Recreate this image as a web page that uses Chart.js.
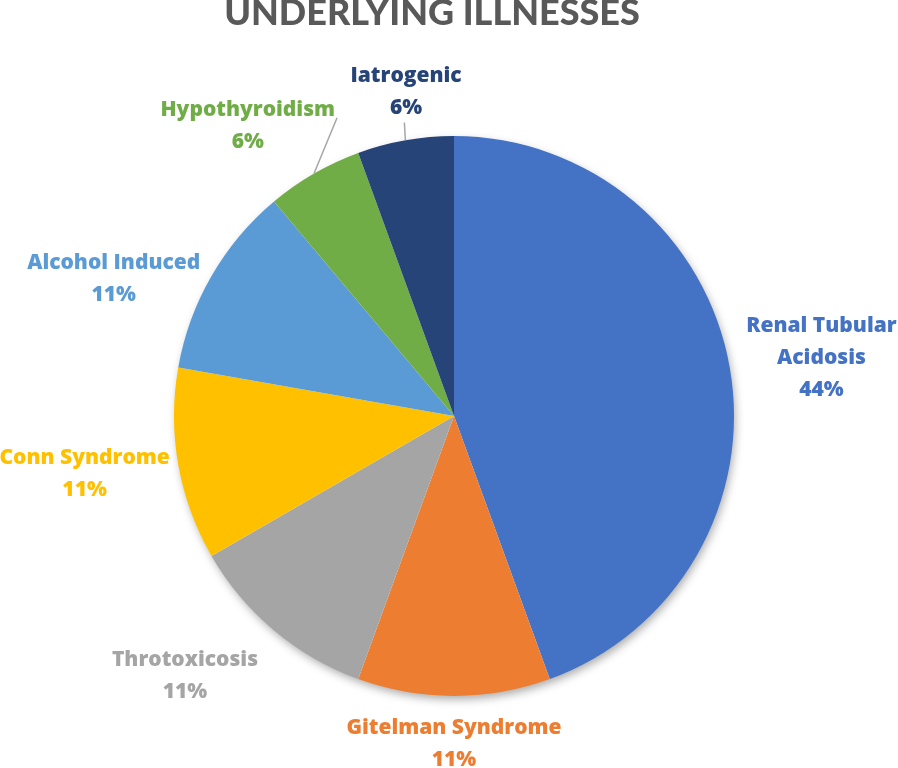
<!DOCTYPE html>
<html>
<head>
<meta charset="utf-8">
<script src="https://cdn.jsdelivr.net/npm/chart.js@4"></script>
<style>
  html, body { margin: 0; padding: 0; background: #fff; }
  #wrap { width: 898px; height: 768px; position: relative; }
</style>
</head>
<body>
<div id="wrap"><canvas id="pie-chart"></canvas></div>
<script>
// data
var categories = ["Renal Tubular Acidosis", "Gitelman Syndrome", "Throtoxicosis", "Conn Syndrome", "Alcohol Induced", "Hypothyroidism", "Iatrogenic"];
var labelLines = [["Renal Tubular", "Acidosis"], ["Gitelman Syndrome"], ["Throtoxicosis"], ["Conn Syndrome"], ["Alcohol Induced"], ["Hypothyroidism"], ["Iatrogenic"]];
var cases = [8, 2, 2, 2, 2, 1, 1];
var colors = ["#4472C4", "#ED7D31", "#A5A5A5", "#FFC000", "#5B9BD5", "#70AD47", "#264478"];

// label placement (distance from centre in px, angle nudge in degrees)
var labelDist = [372, 328, 374, 374, 367, 356, 328];
var labelNudge = [1, 0, 6, 1, -8, -5.4, 1.6];
var leaderLine = [false, false, false, false, false, true, true];

var total = cases.reduce(function (a, b) { return a + b; }, 0);
var TITLE_FONT = "Lato, 'Open Sans', sans-serif";
var LABEL_FONT = "'Open Sans', Lato, sans-serif";

var shadowPlugin = {
  id: 'pieShadow',
  beforeDatasetsDraw: function (chart) {
    var arc = chart.getDatasetMeta(0).data[0];
    var ctx = chart.ctx;
    ctx.save();
    ctx.shadowColor = 'rgba(0,0,0,0.35)';
    ctx.shadowBlur = 10;
    ctx.shadowOffsetX = 2;
    ctx.shadowOffsetY = 4;
    ctx.fillStyle = '#ffffff';
    ctx.beginPath();
    ctx.arc(arc.x, arc.y, arc.outerRadius - 1, 0, Math.PI * 2);
    ctx.fill();
    ctx.restore();
  }
};

var labelPlugin = {
  id: 'outerLabels',
  afterDatasetsDraw: function (chart) {
    var ctx = chart.ctx;
    var arcs = chart.getDatasetMeta(0).data;
    ctx.save();
    // title
    ctx.font = "900 36px " + TITLE_FONT;
    ctx.fillStyle = '#595959';
    ctx.textAlign = 'center';
    ctx.textBaseline = 'middle';
    ctx.fillText('UNDERLYING ILLNESSES', 432, 13);

    arcs.forEach(function (arc, i) {
      var mid = (arc.startAngle + arc.endAngle) / 2 + labelNudge[i] * Math.PI / 180;
      var lx = arc.x + Math.cos(mid) * labelDist[i];
      var ly = arc.y + Math.sin(mid) * labelDist[i];
      var lines = labelLines[i].concat([Math.round(cases[i] / total * 100) + '%']);
      var lh = 32;
      var top = ly - (lines.length - 1) * lh / 2;

      ctx.font = "800 21px " + LABEL_FONT;

      if (leaderLine[i]) {
        var am = (arc.startAngle + arc.endAngle) / 2;
        var ex = arc.x + Math.cos(am) * arc.outerRadius;
        var ey = arc.y + Math.sin(am) * arc.outerRadius;
        var tx, ty;
        if (i === 5) { tx = lx + ctx.measureText(lines[0]).width / 2 + 2; ty = top + 8; }
        else { tx = ex - 1; ty = top + lh + 15; }
        ctx.strokeStyle = '#A6A6A6';
        ctx.lineWidth = 1.5;
        ctx.beginPath();
        ctx.moveTo(ex, ey);
        ctx.lineTo(tx, ty);
        ctx.stroke();
      }

      ctx.fillStyle = colors[i];
      lines.forEach(function (t, k) {
        ctx.fillText(t, lx, top + k * lh);
      });
    });
    ctx.restore();
  }
};

new Chart(document.getElementById('pie-chart'), {
  type: 'pie',
  data: {
    labels: categories,
    datasets: [{
      data: cases,
      backgroundColor: colors,
      borderWidth: 0
    }]
  },
  options: {
    responsive: true,
    maintainAspectRatio: false,
    animation: false,
    layout: { padding: { left: 174, right: 164, top: 136, bottom: 72 } },
    plugins: {
      legend: { display: false },
      title: { display: false },
      tooltip: { enabled: false }
    }
  },
  plugins: [shadowPlugin, labelPlugin]
});
</script>
</body>
</html>
